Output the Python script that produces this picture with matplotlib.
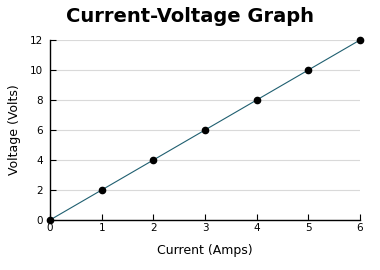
import matplotlib
matplotlib.use("Agg")
import matplotlib.pyplot as plt

current = [0, 1, 2, 3, 4, 5, 6]
voltage = [0, 2, 4, 6, 8, 10, 12]
x_ticks = [0, 1, 2, 3, 4, 5, 6]
y_ticks = [0, 2, 4, 6, 8, 10, 12]

plt.rcParams['font.family'] = ['DejaVu Sans']

fig = plt.figure(figsize=(3.8, 2.7), dpi=100)
ax = fig.add_axes([50/380, 50/270, 310/380, 180/270])

ax.plot(current, voltage, color='#1f5f70', lw=0.8, marker='o', ms=4.5,
        mfc='black', mec='black', clip_on=False, zorder=3)

ax.set_xlim(0, 6)
ax.set_ylim(0, 12)
ax.set_xticks(x_ticks)
ax.set_yticks(y_ticks)
ax.grid(axis='y', color='#d9d9d9', lw=0.8)
ax.set_axisbelow(True)
for s in ['top', 'right']:
    ax.spines[s].set_visible(False)
ax.spines['left'].set_linewidth(1.0)
ax.spines['bottom'].set_linewidth(1.0)
ax.tick_params(axis='both', direction='in', length=4, labelsize=7.5, pad=2)
ax.tick_params(axis='y', pad=5)

ax.set_xlabel('Current (Amps)', fontsize=9, labelpad=8)
ax.set_ylabel('Voltage (Volts)', fontsize=9, labelpad=6)
fig.text(0.5, 0.94, 'Current-Voltage Graph', ha='center', va='center',
         fontsize=14, fontweight='bold')

fig.savefig('out.png', dpi=100)
